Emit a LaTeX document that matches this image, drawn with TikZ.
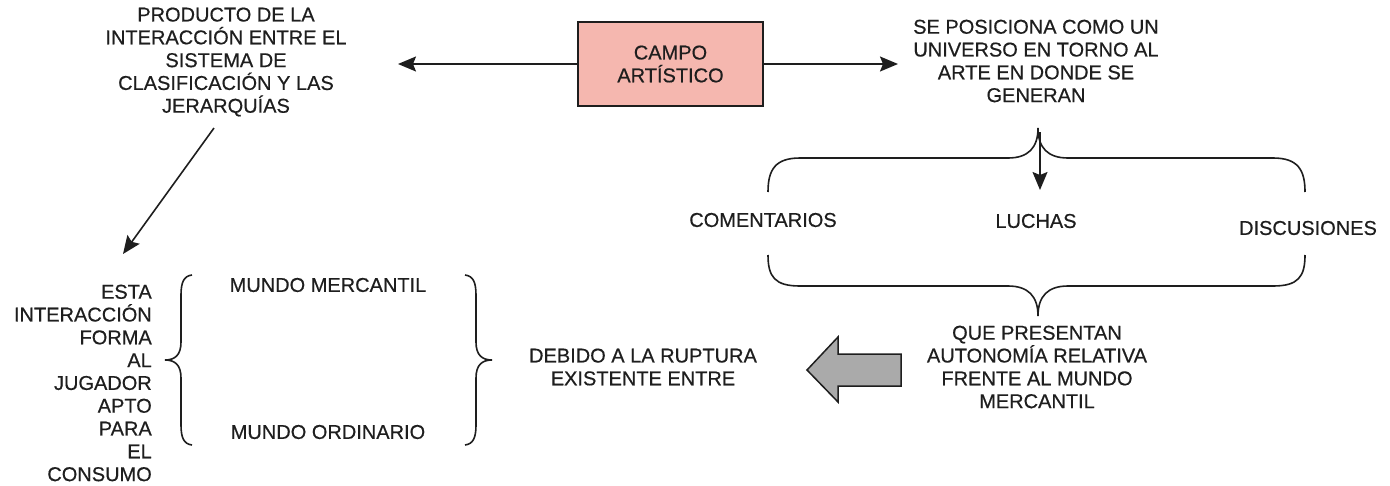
\documentclass[tikz,border=0pt]{standalone}
\usepackage{fontspec}
\setmainfont{Liberation Sans}
\newfontfamily\heavyfont[FakeBold=0.5]{Liberation Sans}
\usetikzlibrary{arrows.meta}
\definecolor{txt}{RGB}{30,30,30}
\definecolor{boxpink}{RGB}{245,183,175}
\definecolor{arrowgray}{RGB}{170,170,170}
\begin{document}
\begin{tikzpicture}[x=1pt,y=-1pt,
  lbl/.style={text=txt,font=\heavyfont\fontsize{20}{22.8}\selectfont,align=center,inner sep=0pt},
  link/.style={line width=1.6pt,draw=txt,-{Stealth[length=18pt,width=15pt,inset=3pt]}},
  brace/.style={line width=1.6pt,draw=txt}]
\useasboundingbox (0,0) rectangle (1390,485);
% central box
\node[lbl,draw=txt,line width=1.5pt,fill=boxpink,minimum width=185pt,minimum height=84pt] (campo) at (670.5,64) {CAMPO\\ARTÍSTICO};
\node[lbl] (producto) at (226,62) {PRODUCTO DE LA\\INTERACCIÓN ENTRE EL\\SISTEMA DE\\CLASIFICACIÓN Y LAS\\JERARQUÍAS};
\node[lbl] (universo) at (1036,61) {SE POSICIONA COMO UN\\UNIVERSO EN TORNO AL\\ARTE EN DONDE SE\\GENERAN};
\coordinate (lend) at (398,64);
\coordinate (rend) at (898,64);
\draw[link] (campo.west) -- (lend);
\draw[link] (campo.east) -- (rend);
% diagonal
\coordinate (dstart) at (214,128);
\coordinate (dend) at (123,254);
\draw[link] (dstart) -- (dend);
% top brace
\draw[brace] (768,192) .. controls (768,170) and (775,158) .. (800,158) -- (1008,158) .. controls (1028,158) and (1038,148) .. (1038,128) .. controls (1038,148) and (1048,158) .. (1068,158) -- (1273,158) .. controls (1298,158) and (1305,170) .. (1305,192);
\coordinate (bcusp) at (1040,132);
\coordinate (bend) at (1040,190);
\draw[link] (bcusp) -- (bend);
\node[lbl] (coment) at (763,220) {COMENTARIOS};
\node[lbl] (luchas) at (1036,221) {LUCHAS};
\node[lbl] (discu) at (1308,228) {DISCUSIONES};
% bottom brace
\draw[brace] (768,255) .. controls (768,277) and (775,286) .. (800,286) -- (1008,286) .. controls (1028,286) and (1038,296) .. (1038,316) .. controls (1038,296) and (1048,286) .. (1068,286) -- (1273,286) .. controls (1298,286) and (1305,277) .. (1305,255);
\node[lbl] (presentan) at (1037,367) {QUE PRESENTAN\\AUTONOMÍA RELATIVA\\FRENTE AL MUNDO\\MERCANTIL};
% fat arrow
\draw[line width=1.5pt,draw=txt,fill=arrowgray] (807,370) -- (838,337) -- (838,354) -- (901,354) -- (901,386) -- (838,386) -- (838,402) -- cycle;
\node[lbl] (debido) at (643,367) {DEBIDO A LA RUPTURA\\EXISTENTE ENTRE};
% left text
\node[lbl,align=right,anchor=east] (esta) at (152,383) {ESTA\\INTERACCIÓN\\FORMA\\AL\\JUGADOR\\APTO\\PARA\\EL\\CONSUMO};
% left brace
\draw[brace] (192,275) .. controls (184,276) and (181,282) .. (181,295) -- (181,342) .. controls (181,355) and (175,360) .. (165,360) .. controls (175,360) and (181,365) .. (181,378) -- (181,425) .. controls (181,438) and (184,444) .. (192,445);
% right brace
\draw[brace] (465,275) .. controls (473,276) and (476,282) .. (476,295) -- (476,342) .. controls (476,355) and (482,360) .. (492,360) .. controls (482,360) and (476,365) .. (476,378) -- (476,425) .. controls (476,438) and (473,444) .. (465,445);
\node[lbl] (mercantil) at (328,285) {MUNDO MERCANTIL};
\node[lbl] (ordinario) at (328,432) {MUNDO ORDINARIO};
\end{tikzpicture}
\end{document}
